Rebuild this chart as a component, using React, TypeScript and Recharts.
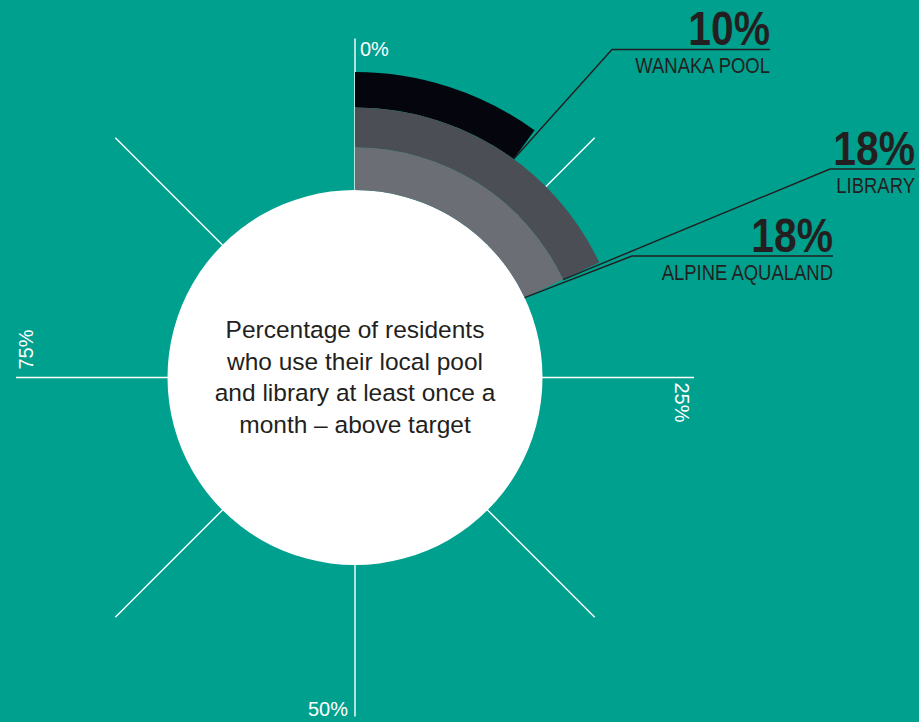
import React from 'react';
import { PieChart, Pie, Cell, RadialBarChart, PolarAngleAxis, PolarGrid } from 'recharts';

// ---------- data ----------
const categories = ['WANAKA POOL', 'LIBRARY', 'ALPINE AQUALAND'];
const usagePercent = [10, 18, 18];
const axisTicks = [0, 12.5, 25, 37.5, 50, 62.5, 75, 87.5];
const axisTickLabels = ['0%', '', '25%', '', '50%', '', '75%', ''];
const centerLines = [
  'Percentage of residents',
  'who use their local pool',
  'and library at least once a',
  'month – above target',
];

// ---------- layout / style ----------
const W = 919;
const H = 722;
const CX = 355;
const CY = 377.5;
const TEAL = '#00a08f';
const DARK = '#231f20';
const bandColors = ['#05060d', '#4c4e56', '#6c6e76'];
const bandRadii = [
  { inner: 270, outer: 305.5 },
  { inner: 230, outer: 270 },
  { inner: 187.5, outer: 230 },
];
const labelAnchors = [
  { x: 612, y: 49.5, right: 770 },
  { x: 830, y: 169, right: 915 },
  { x: 632, y: 256, right: 833 },
];
const tickPlacement: Record<number, { dx: number; dy: number; rot: number; anchor: string }> = {
  0: { dx: 5, dy: 25, rot: 0, anchor: 'start' },
  25: { dx: -27, dy: 5, rot: 90, anchor: 'start' },
  50: { dx: -7, dy: -9, rot: 0, anchor: 'end' },
  75: { dx: 25, dy: -8, rot: -90, anchor: 'start' },
};
const SANS = "'Liberation Sans', Arial, Helvetica, sans-serif";
const NARROW_SCALE = 0.84;

const RAD = Math.PI / 180;

const renderTick = (props: any) => {
  const { x, y, payload } = props;
  const idx = axisTicks.indexOf(payload.value);
  const text = idx >= 0 ? axisTickLabels[idx] : '';
  const place = tickPlacement[payload.value];
  if (!text || !place) return <g />;
  const tx = x + place.dx;
  const ty = y + place.dy;
  return (
    <text
      x={tx}
      y={ty}
      textAnchor={place.anchor as any}
      fill="#ffffff"
      fontFamily={SANS}
      fontSize={20}
      transform={place.rot ? `rotate(${place.rot} ${tx} ${ty})` : undefined}
    >
      {text}
    </text>
  );
};

const makeBandLabel = (i: number) => (props: any) => {
  if (props.index !== 0) return <g />;
  const { cx, cy, innerRadius, endAngle } = props;
  const sx = cx + innerRadius * Math.cos(-endAngle * RAD);
  const sy = cy + innerRadius * Math.sin(-endAngle * RAD);
  const a = labelAnchors[i];
  return (
    <g>
      <polyline
        points={`${sx},${sy} ${a.x},${a.y} ${a.right},${a.y}`}
        fill="none"
        stroke={DARK}
        strokeWidth={1.4}
      />
      <text
        x={0}
        y={0}
        transform={`translate(${a.right} ${a.y - 4.5}) scale(0.86 1)`}
        textAnchor="end"
        fill={DARK}
        fontFamily={SANS}
        fontWeight="bold"
        fontSize={47.5}
      >
        {`${usagePercent[i]}%`}
      </text>
      <text
        x={0}
        y={0}
        transform={`translate(${a.right} ${a.y + 23.5}) scale(${NARROW_SCALE} 1)`}
        textAnchor="end"
        fill={DARK}
        fontFamily={SANS}
        fontSize={22}
      >
        {categories[i]}
      </text>
    </g>
  );
};

const renderCenter = (props: any) => {
  const { cx, cy } = props;
  const offsets = [-39.5, -7.8, 23.9, 55.6];
  return (
    <text textAnchor="middle" fill={DARK} fontFamily={SANS} fontSize={24.5}>
      {centerLines.map((line, k) => (
        <tspan key={k} x={cx} y={cy + offsets[k]}>
          {line}
        </tspan>
      ))}
    </text>
  );
};

const gridData = categories.map((name, i) => ({ name, value: usagePercent[i] }));

export default function App() {
  const zero = { top: 0, right: 0, bottom: 0, left: 0 };
  return (
    <div
      style={{
        position: 'absolute',
        left: 0,
        top: 0,
        width: W,
        height: H,
        background: TEAL,
        overflow: 'hidden',
      }}
    >
      <div style={{ position: 'absolute', left: 0, top: 0 }}>
        <RadialBarChart
          width={W}
          height={H}
          cx={CX}
          cy={CY}
          innerRadius={0}
          outerRadius={339}
          startAngle={90}
          endAngle={-270}
          margin={zero}
          data={gridData}
        >
          <PolarGrid gridType="circle" polarRadius={[]} stroke="#ffffff" strokeWidth={1.4} />
          <PolarAngleAxis
            type="number"
            dataKey="value"
            domain={[0, 100]}
            ticks={axisTicks}
            tick={renderTick}
            tickLine={false}
            axisLine={false}
          />
        </RadialBarChart>
      </div>
      <div style={{ position: 'absolute', left: 0, top: 0 }}>
        <PieChart width={W} height={H} margin={zero}>
          <Pie
            data={[{ name: 'center', value: 1 }]}
            dataKey="value"
            cx={CX}
            cy={CY}
            innerRadius={0}
            outerRadius={187.5}
            startAngle={90}
            endAngle={-270}
            fill="#ffffff"
            stroke="none"
            isAnimationActive={false}
            label={renderCenter}
            labelLine={false}
          />
          {categories.map((name, i) => (
            <Pie
              key={name}
              data={[
                { name, value: usagePercent[i] },
                { name: 'rest', value: 100 - usagePercent[i] },
              ]}
              dataKey="value"
              cx={CX}
              cy={CY}
              innerRadius={bandRadii[i].inner}
              outerRadius={bandRadii[i].outer}
              startAngle={90}
              endAngle={-270}
              stroke="none"
              isAnimationActive={false}
              label={makeBandLabel(i)}
              labelLine={false}
            >
              <Cell fill={bandColors[i]} />
              <Cell fill="none" />
            </Pie>
          ))}
        </PieChart>
      </div>
    </div>
  );
}
